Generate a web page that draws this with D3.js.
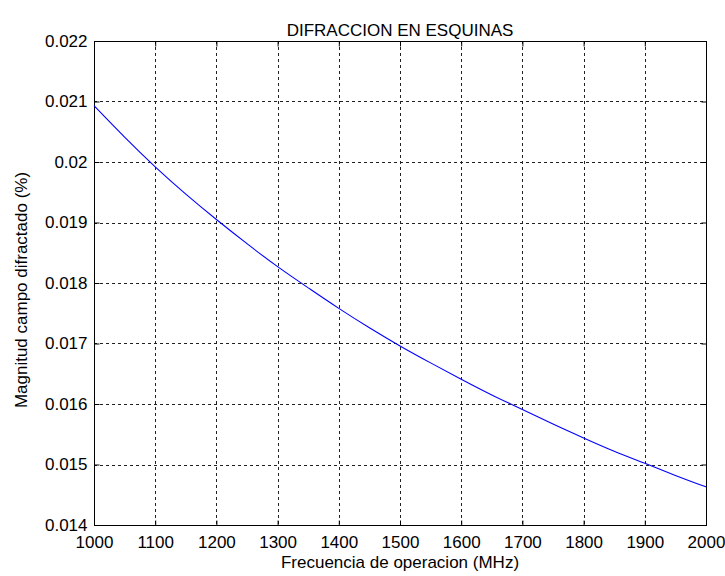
<!DOCTYPE html>
<html><head><meta charset="utf-8">
<script src="https://cdn.jsdelivr.net/npm/d3@7"></script>
<style>body{margin:0;background:#fff}svg{display:block}text{font-family:"Liberation Sans",Arial,sans-serif;fill:#000}</style>
</head><body>
<svg id="c" width="725" height="576"></svg>
<script>
const freq = [1000,1050,1100,1150,1200,1250,1300,1350,1400,1450,1500,1550,1600,1650,1700,1750,1800,1850,1900,1950,2000];
const magnitude = [0.02093,0.02041,0.01992,0.01947,0.01905,0.01865,0.01827,0.01792,0.01758,0.01726,0.01696,0.01668,0.01641,0.01615,0.01591,0.01567,0.01544,0.01522,0.01502,0.01482,0.01463];
const xTicks = [1000,1100,1200,1300,1400,1500,1600,1700,1800,1900,2000];
const yTicks = [0.014,0.015,0.016,0.017,0.018,0.019,0.02,0.021,0.022];
const yTickLabels = ["0.014","0.015","0.016","0.017","0.018","0.019","0.02","0.021","0.022"];
const title = "DIFRACCION EN ESQUINAS";
const xLabel = "Frecuencia de operacion (MHz)";
const yLabel = "Magnitud campo difractado (%)";

const L=94,R=706,T=41,B=525;
const svg=d3.select("#c");
const x=d3.scaleLinear().domain([1000,2000]).range([L,R]);
const y=d3.scaleLinear().domain([0.014,0.022]).range([B,T]);

// grid
const g=svg.append("g");
g.selectAll(".vg").data(xTicks.slice(1,-1)).join("line")
 .attr("x1",d=>Math.round(x(d))+0.5).attr("x2",d=>Math.round(x(d))+0.5)
 .attr("y1",T).attr("y2",B).attr("stroke","#222").attr("stroke-dasharray","3,3");
g.selectAll(".hg").data(yTicks.slice(1,-1)).join("line")
 .attr("y1",d=>Math.round(y(d))+0.5).attr("y2",d=>Math.round(y(d))+0.5)
 .attr("x1",L).attr("x2",R).attr("stroke","#222").attr("stroke-dasharray","3,3");

// axes with inner ticks
const fs=17;
const axB=svg.append("g").attr("transform",`translate(0,${B+0.5})`)
 .call(d3.axisBottom(x).tickValues(xTicks).tickSize(-5).tickPadding(10).tickFormat(d3.format("d")));
const axT=svg.append("g").attr("transform",`translate(0,${T+0.5})`)
 .call(d3.axisTop(x).tickValues(xTicks).tickSize(-5).tickFormat(""));
const axL=svg.append("g").attr("transform",`translate(${L+0.5},0)`)
 .call(d3.axisLeft(y).tickValues(yTicks).tickSize(-5).tickPadding(7).tickFormat((d,i)=>yTickLabels[i]));
const axR=svg.append("g").attr("transform",`translate(${R+0.5},0)`)
 .call(d3.axisRight(y).tickValues(yTicks).tickSize(-5).tickFormat(""));
[axB,axT,axL,axR].forEach(a=>{
  a.select(".domain").remove();
  a.selectAll("line").attr("stroke","#000");
  a.selectAll("text").attr("font-size",fs).attr("font-family","Liberation Sans, Arial, sans-serif").attr("fill","#000");
});
svg.append("rect").attr("x",L+0.5).attr("y",T+0.5).attr("width",R-L).attr("height",B-T)
 .attr("fill","none").attr("stroke","#000");

// curve
svg.append("path").datum(freq.map((f,i)=>[f,magnitude[i]]))
 .attr("d",d3.line().x(d=>x(d[0])).y(d=>y(d[1])).curve(d3.curveNatural))
 .attr("fill","none").attr("stroke","#0000ff").attr("stroke-width",1.1);

svg.append("text").attr("x",(L+R)/2).attr("y",36).attr("text-anchor","middle").attr("font-size",fs).text(title);
svg.append("text").attr("x",(L+R)/2).attr("y",568).attr("text-anchor","middle").attr("font-size",fs).text(xLabel);
svg.append("text").attr("transform",`translate(27,${290}) rotate(-90)`).attr("text-anchor","middle").attr("font-size",fs).text(yLabel);
</script>
</body></html>
